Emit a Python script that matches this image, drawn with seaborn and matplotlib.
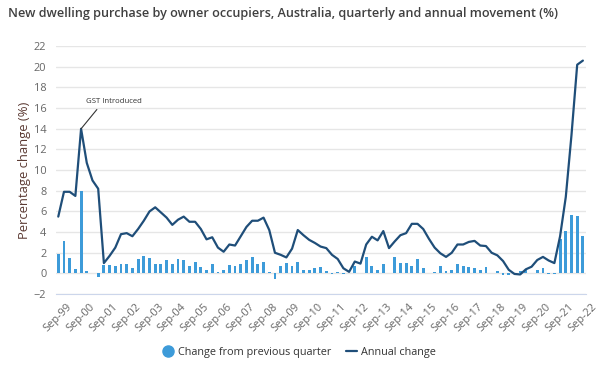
import numpy as np
import pandas as pd
import seaborn as sns
import matplotlib.pyplot as plt
from matplotlib.lines import Line2D

# Quarterly % change (bars), Sep-99 .. Sep-22
quarterly = [1.9, 3.1, 1.5, 0.4, 8.0, 0.2, 0.0, -0.35, 0.8, 0.85,
             0.75, 0.9, 0.9, 0.55, 1.35, 1.7, 1.5, 0.95, 0.9, 1.3,
             0.9, 1.35, 1.3, 0.75, 1.1, 0.65, 0.3, 0.95, 0.1, 0.35,
             0.85, 0.75, 0.9, 1.3, 1.55, 0.9, 1.15, 0.1, -0.55, 0.75,
             1.0, 0.75, 1.15, 0.35, 0.35, 0.5, 0.65, 0.25, -0.1, 0.15,
             -0.1, 0.0, 0.75, 0.0, 1.6, 0.75, 0.35, 0.9, 0.0, 1.55,
             1.0, 1.0, 0.75, 1.35, 0.55, 0.0, 0.1, 0.75, 0.25, 0.35,
             0.9, 0.75, 0.65, 0.5, 0.35, 0.65, 0.0, 0.25, -0.12, -0.12,
             0.0, 0.25, 0.35, 0.0, 0.3, 0.5, -0.1, -0.1, 3.3, 4.15,
             5.65, 5.6, 3.65]

# Annual % change (line)
annual = [5.5, 7.9, 7.9, 7.5, 14.0, 10.7, 9.0, 8.2, 1.0, 1.7,
          2.5, 3.8, 3.9, 3.6, 4.3, 5.1, 6.0, 6.4, 5.9, 5.4,
          4.7, 5.2, 5.5, 5.0, 5.0, 4.3, 3.3, 3.5, 2.5, 2.1,
          2.8, 2.7, 3.6, 4.5, 5.1, 5.1, 5.4, 4.2, 2.0, 1.8,
          1.55, 2.4, 4.2, 3.7, 3.25, 2.95, 2.6, 2.45, 1.8, 1.4,
          0.5, 0.15, 1.15, 0.95, 2.8, 3.55, 3.2, 4.1, 2.45, 3.1,
          3.7, 3.9, 4.8, 4.8, 4.3, 3.35, 2.5, 1.95, 1.6, 2.0,
          2.8, 2.8, 3.05, 3.15, 2.7, 2.65, 2.0, 1.75, 1.2, 0.35,
          -0.05, -0.1, 0.4, 0.65, 1.3, 1.6, 1.25, 1.0, 3.6, 7.4,
          13.4, 20.2, 20.6]

tick_labels = ['Sep-99', 'Sep-00', 'Sep-01', 'Sep-02', 'Sep-03', 'Sep-04',
               'Sep-05', 'Sep-06', 'Sep-07', 'Sep-08', 'Sep-09', 'Sep-10',
               'Sep-11', 'Sep-12', 'Sep-13', 'Sep-14', 'Sep-15', 'Sep-16',
               'Sep-17', 'Sep-18', 'Sep-19', 'Sep-20', 'Sep-21', 'Sep-22']

df = pd.DataFrame({'quarter': np.arange(len(annual)),
                   'quarterly': quarterly,
                   'annual': annual})

bar_color = '#3d9bd9'
line_color = '#1f4e79'

sns.set_style('white')
plt.rcParams['font.family'] = ['Open Sans', 'DejaVu Sans']

fig = plt.figure(figsize=(6.02, 3.69), dpi=100)
ax = fig.add_axes([0.093, 0.203, 0.880, 0.672])

sns.barplot(data=df, x='quarter', y='quarterly', native_scale=True, width=0.5,
            color=bar_color, saturation=1, linewidth=0, ax=ax, zorder=2)
sns.lineplot(data=df, x='quarter', y='annual', color=line_color,
             linewidth=1.6, ax=ax, zorder=3)

ax.set_xlim(-0.4, 92.5)
ax.set_ylim(-2, 22)
ax.set_yticks(range(-2, 23, 2))
ax.yaxis.grid(True, color='#e6e6e6', linewidth=1)
ax.set_axisbelow(True)

ax.set_xticks(df['quarter'][::4])
ax.set_xticklabels(tick_labels)
ax.tick_params(axis='x', length=0, pad=5, labelsize=7.9,
               labelcolor='#666666', labelrotation=45)
plt.setp(ax.get_xticklabels(), ha='right', rotation_mode='anchor')
ax.tick_params(axis='y', labelsize=7.9, labelcolor='#666666', length=0, pad=7)

for side in ['top', 'right', 'left']:
    ax.spines[side].set_visible(False)
ax.spines['bottom'].set_color('#ccd6eb')
ax.spines['bottom'].set_position(('data', -2))

ax.set_xlabel('')
ax.set_ylabel('Percentage change (%)', fontsize=9.4, color='#5b3a33', labelpad=2)

# GST annotation
peak = int(np.argmax(annual[:10]))
ax.annotate('GST Introduced', xy=(peak, annual[peak]), xytext=(24, 17),
            textcoords='offset points', ha='center', va='bottom',
            fontsize=5.6, color='#333333',
            arrowprops=dict(arrowstyle='-', color='#333333', lw=0.8,
                            relpos=(0.25, 0), shrinkA=1, shrinkB=0))

fig.text(0.013, 1 - 14 / 369, 'New dwelling purchase by owner occupiers, Australia, '
         'quarterly and annual movement (%)', fontsize=9.1, fontweight='semibold',
         color='#404040', va='center', ha='left')

handles = [Line2D([], [], marker='o', linestyle='none', markersize=8,
                  markerfacecolor=bar_color, markeredgecolor=bar_color),
           Line2D([], [], color=line_color, linewidth=1.6)]
fig.legend(handles, ['Change from previous quarter', 'Annual change'],
           loc='center', bbox_to_anchor=(0.497, 1 - 352 / 369), ncol=2,
           frameon=False, fontsize=7.8, handlelength=1.0, handletextpad=0.4,
           columnspacing=1.4, labelcolor='#333333')

fig.savefig('out.png', dpi=100)
